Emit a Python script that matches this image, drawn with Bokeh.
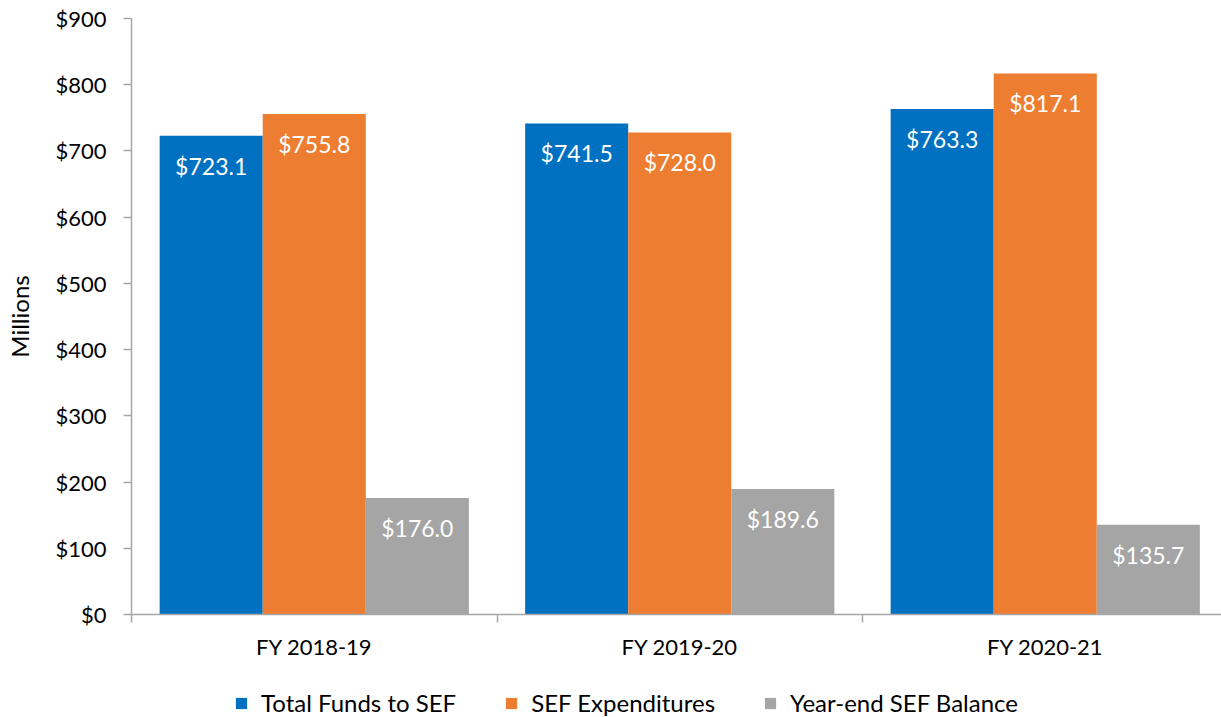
from bokeh.plotting import figure
from bokeh.layouts import column
from bokeh.models import ColumnDataSource, FixedTicker, NumeralTickFormatter, Legend, LegendItem, Range1d
from bokeh.core.properties import value
from bokeh.embed import file_html
from bokeh.resources import INLINE

categories = ["FY 2018-19", "FY 2019-20", "FY 2020-21"]
series_names = ["Total Funds to SEF", "SEF Expenditures", "Year-end SEF Balance"]
total_funds = [723.1, 741.5, 763.3]
expenditures = [755.8, 728.0, 817.1]
balance = [176.0, 189.6, 135.7]
colors = ["#0070C0", "#ED7D31", "#A5A5A5"]
y_ticks = [0, 100, 200, 300, 400, 500, 600, 700, 800, 900]

FONT = "Lato"
bar_w = 0.282
offsets = [-bar_w, 0.0, bar_w]
centers = [i + 0.5 for i in range(len(categories))]

p = figure(frame_width=1090, frame_height=596, output_backend="svg", toolbar_location=None,
           x_range=Range1d(0, 1090 / 365.5), y_range=Range1d(0, 900),
           min_border_top=18, min_border_bottom=70, min_border_right=0, min_border_left=131)
p.outline_line_color = None
p.xgrid.visible = False
p.ygrid.visible = False

for vals, off, col in zip([total_funds, expenditures, balance], offsets, colors):
    src = ColumnDataSource(dict(x=[c + off for c in centers], top=vals,
                                lab=["$%.1f" % v for v in vals]))
    p.vbar(x="x", top="top", width=bar_w, source=src, fill_color=col, line_color=None)
    p.text(x="x", y="top", text="lab", source=src, text_color="white",
           text_font=value(FONT), text_font_size="23px", text_align="center",
           text_baseline="middle", y_offset=30)

# axes
p.xaxis.ticker = FixedTicker(ticks=centers, minor_ticks=[0, 1, 2, 3])
p.xaxis.major_label_overrides = {c: lab for c, lab in zip(centers, categories)}
p.xaxis.major_tick_line_color = None
p.xaxis.minor_tick_out = 8
p.xaxis.minor_tick_in = 0
p.xaxis.minor_tick_line_color = "#A6A6A6"
p.xaxis.minor_tick_line_width = 1.5
p.xaxis.axis_line_color = "#A6A6A6"
p.xaxis.axis_line_width = 1.5
p.xaxis.major_label_text_font = FONT
p.xaxis.major_label_text_font_size = "22px"
p.xaxis.major_label_text_color = "black"
p.xaxis.major_label_standoff = 10

p.yaxis.ticker = FixedTicker(ticks=y_ticks)
p.yaxis.formatter = NumeralTickFormatter(format="$0")
p.yaxis.minor_tick_line_color = None
p.yaxis.major_tick_out = 8
p.yaxis.major_tick_in = 0
p.yaxis.major_tick_line_color = "#A6A6A6"
p.yaxis.major_tick_line_width = 1.5
p.yaxis.axis_line_color = "#A6A6A6"
p.yaxis.axis_line_width = 1.5
p.yaxis.major_label_text_font = FONT
p.yaxis.major_label_text_font_size = "22px"
p.yaxis.major_label_text_color = "black"
p.yaxis.major_label_standoff = 17
p.yaxis.axis_label = "Millions"
p.yaxis.axis_label_text_font = FONT
p.yaxis.axis_label_text_font_size = "24px"
p.yaxis.axis_label_text_font_style = "normal"
p.yaxis.axis_label_text_color = "black"
p.yaxis.axis_label_standoff = 18

# legend strip below the chart
lg = figure(width=1221, height=33, output_backend="svg", toolbar_location=None,
            x_range=Range1d(0, 1), y_range=Range1d(0, 1),
            min_border=0, min_border_left=0, min_border_right=0,
            min_border_top=0, min_border_bottom=0)
lg.axis.visible = False
lg.grid.visible = False
lg.outline_line_color = None
items = []
for col, name in zip(colors, series_names):
    r = lg.vbar(x=[0.5], top=[0], width=0, fill_color=col, line_color=None)
    items.append(LegendItem(label=name, renderers=[r]))
legend = Legend(items=items, orientation="horizontal", location=(103, 0),
                glyph_width=14, glyph_height=14, label_standoff=13, spacing=48,
                label_text_font=FONT, label_text_font_size="24px", label_text_color="black",
                border_line_color=None, background_fill_alpha=0, padding=0, margin=0)
lg.add_layout(legend, "center")

layout = column(p, lg, spacing=0)
open("out.html", "w").write(file_html(layout, INLINE))
